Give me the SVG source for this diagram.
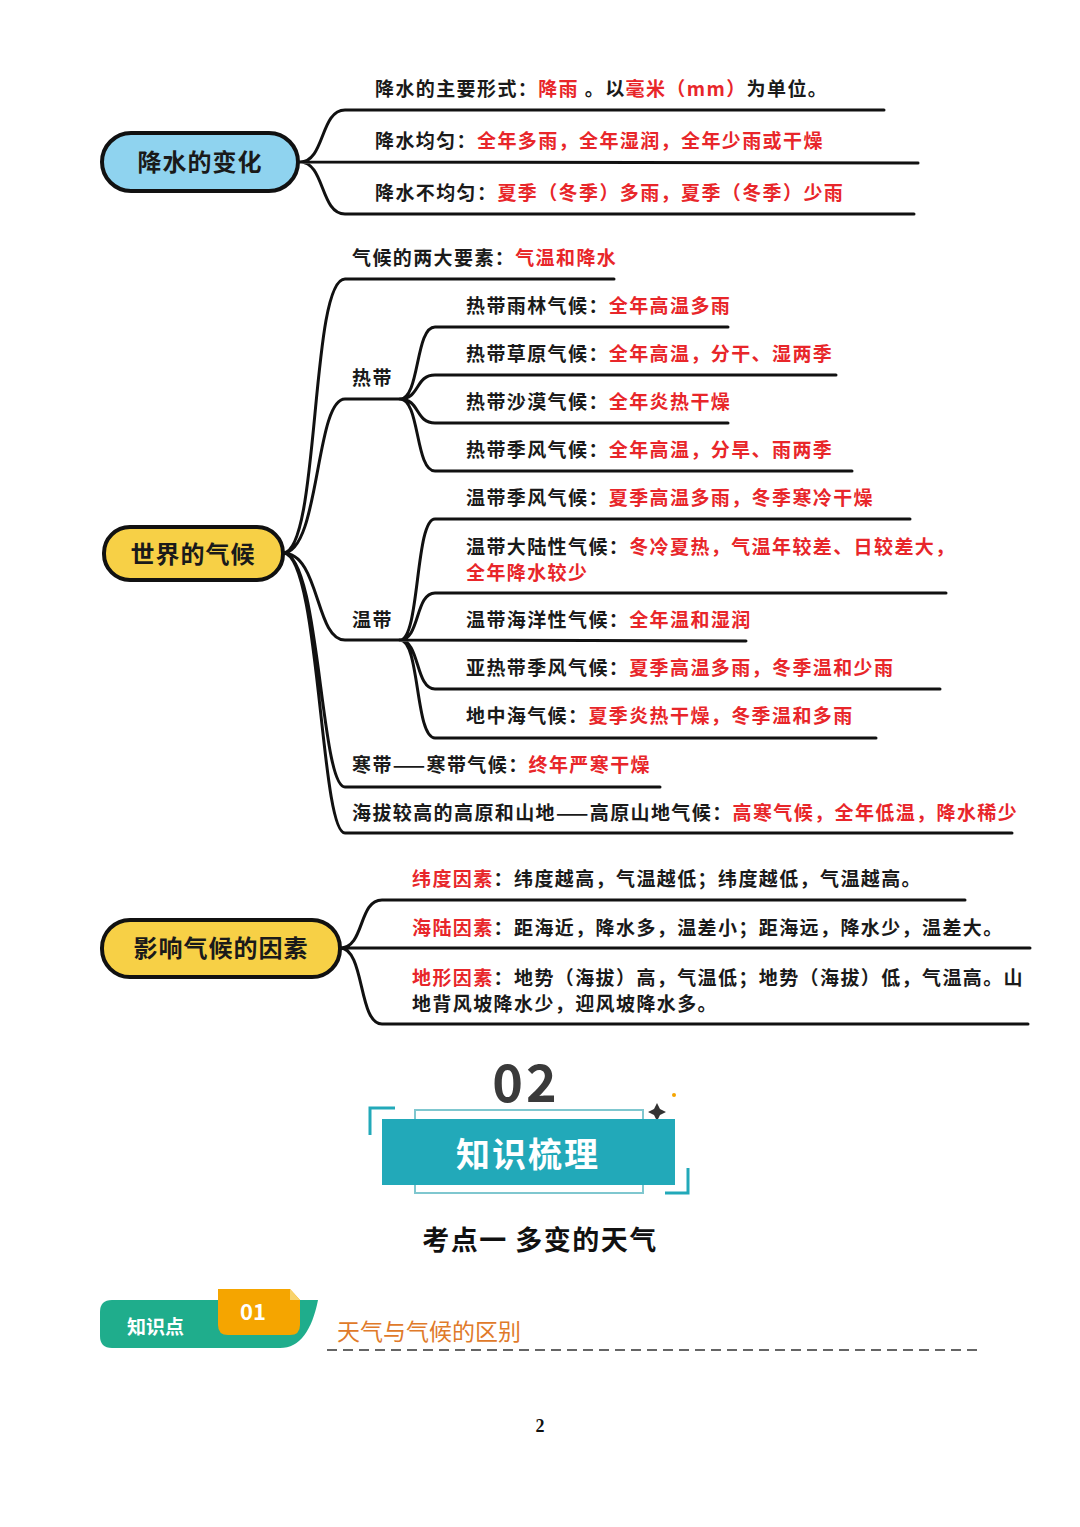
<svg xmlns="http://www.w3.org/2000/svg" width="1080" height="1527" viewBox="0 0 1080 1527">
<style>
text{font-family:"Noto Sans CJK SC","Liberation Sans",sans-serif;font-weight:bold}
.t{font-size:19px;fill:#1a1a1a;letter-spacing:1.4px}
.r{fill:#e8262a}
.ln{stroke:#111;stroke-width:3;fill:none;stroke-linecap:round}
.pill{stroke:#111;stroke-width:4}
.h{font-size:24px;fill:#1a1a1a;letter-spacing:1px}
</style>
<rect width="1080" height="1527" fill="#fff"/>
<g id="connectors">
<path class="ln" d="M300 162 C325 162 320 110 345 110 L884 110 M300 162 L918 163 M300 162 C325 162 320 214 345 214 L914 214"/>
<path class="ln" d="M283 553 C320 553 310 279 345 279 L614 279 M283 553 C320 553 315 399 345 399 L400 399 M283 553 C320 553 315 640 345 640 L400 640 M283 553 C320 553 320 787 345 787 L660 787 M283 553 C320 553 320 833 345 833 L1012 833"/>
<path class="ln" d="M400 399 C420 399 415 327 435 327 L728 327 M400 399 C420 399 415 375 435 375 L836 375 M400 399 C420 399 415 423 435 423 L728 423 M400 399 C420 399 415 471 435 471 L852 471"/>
<path class="ln" d="M400 640 C420 640 415 519 435 519 L910 519 M400 640 C420 640 415 593 435 593 L946 593 M400 640 L746 641 M400 640 C420 640 415 689 435 689 L940 689 M400 640 C420 640 415 738 435 738 L876 738"/>
<path class="ln" d="M340 948 C365 948 358 900 382 900 L965 900 M340 948 L1030 948 M340 948 C365 948 358 1024 382 1024 L1028 1024"/>
</g>
<g id="n1"><rect class="pill" x="102" y="133" width="196" height="58" rx="29" fill="#8fd3ef"/><text class="h" x="200" y="171" text-anchor="middle">降水的变化</text></g>
<g id="n1a"><text class="t" x="375" y="96">降水的主要形式：<tspan class="r">降雨</tspan> 。以<tspan class="r">毫米（mm）</tspan>为单位。</text></g>
<g id="n1b"><text class="t" x="375" y="148">降水均匀：<tspan class="r">全年多雨，全年湿润，全年少雨或干燥</tspan></text></g>
<g id="n1c"><text class="t" x="375" y="200">降水不均匀：<tspan class="r">夏季（冬季）多雨，夏季（冬季）少雨</tspan></text></g>
<g id="n2"><rect class="pill" x="104" y="527" width="179" height="53" rx="26" fill="#f7d046"/><text class="h" x="193" y="563" text-anchor="middle">世界的气候</text></g>
<g id="n2a"><text class="t" x="352" y="265">气候的两大要素：<tspan class="r">气温和降水</tspan></text></g>
<g id="n2b"><text class="t" x="352" y="385">热带</text></g>
<g id="n2c"><text class="t" x="352" y="627">温带</text></g>
<g id="n2d"><text class="t" x="352" y="772">寒带——寒带气候：<tspan class="r">终年严寒干燥</tspan></text></g>
<g id="n2e"><text class="t" x="352" y="820">海拔较高的高原和山地——高原山地气候：<tspan class="r">高寒气候，全年低温，降水稀少</tspan></text></g>
<g id="t1"><text class="t" x="466" y="313">热带雨林气候：<tspan class="r">全年高温多雨</tspan></text></g>
<g id="t2"><text class="t" x="466" y="361">热带草原气候：<tspan class="r">全年高温，分干、湿两季</tspan></text></g>
<g id="t3"><text class="t" x="466" y="409">热带沙漠气候：<tspan class="r">全年炎热干燥</tspan></text></g>
<g id="t4"><text class="t" x="466" y="457">热带季风气候：<tspan class="r">全年高温，分旱、雨两季</tspan></text></g>
<g id="w1"><text class="t" x="466" y="505">温带季风气候：<tspan class="r">夏季高温多雨，冬季寒冷干燥</tspan></text></g>
<g id="w2"><text class="t" x="466" y="554">温带大陆性气候：<tspan class="r">冬冷夏热，气温年较差、日较差大，</tspan></text><text class="t r" x="466" y="580">全年降水较少</text></g>
<g id="w3"><text class="t" x="466" y="627">温带海洋性气候：<tspan class="r">全年温和湿润</tspan></text></g>
<g id="w4"><text class="t" x="466" y="675">亚热带季风气候：<tspan class="r">夏季高温多雨，冬季温和少雨</tspan></text></g>
<g id="w5"><text class="t" x="466" y="723">地中海气候：<tspan class="r">夏季炎热干燥，冬季温和多雨</tspan></text></g>
<g id="n3"><rect class="pill" x="102" y="920" width="238" height="57" rx="28" fill="#f7d046"/><text class="h" x="221" y="957" text-anchor="middle">影响气候的因素</text></g>
<g id="n3a"><text class="t" x="412" y="886"><tspan class="r">纬度因素</tspan>：纬度越高，气温越低；纬度越低，气温越高。</text></g>
<g id="n3b"><text class="t" x="412" y="935"><tspan class="r">海陆因素</tspan>：距海近，降水多，温差小；距海远，降水少，温差大。</text></g>
<g id="n3c"><text class="t" x="412" y="985"><tspan class="r">地形因素</tspan>：地势（海拔）高，气温低；地势（海拔）低，气温高。山</text><text class="t" x="412" y="1011">地背风坡降水少，迎风坡降水多。</text></g>
<g id="header">
<text x="526" y="1102" text-anchor="middle" font-size="52" fill="#3a3a3a" letter-spacing="3">02</text>
<path d="M657 1103 l3 6 6 3 -6 3 -3 6 -3 -6 -6 -3 6 -3z" fill="#333"/>
<circle cx="674" cy="1095" r="2" fill="#f5a500"/>
<rect x="415" y="1110" width="228" height="83" fill="none" stroke="#7fc7cf" stroke-width="2"/>
<rect x="382" y="1119" width="293" height="66" fill="#22a9b9"/>
<path d="M370 1135 V1108 H395 M688 1168 V1193 H665" fill="none" stroke="#22a9b9" stroke-width="3"/>
<text x="528" y="1167" text-anchor="middle" font-size="34" fill="#fff" letter-spacing="2">知识梳理</text>
<text x="540" y="1250" text-anchor="middle" font-size="27" fill="#111" letter-spacing="1.5">考点一  多变的天气</text>
</g>
<g id="badge">
<path d="M112 1300 H318 C312 1330 300 1348 280 1348 H112 Q100 1348 100 1336 V1312 Q100 1300 112 1300Z" fill="#1fad8c"/>
<path d="M218 1289 H290 L300 1300 V1325 Q300 1335 290 1335 H228 Q218 1335 218 1325Z" fill="#f5a500"/>
<path d="M290 1289 L300 1300 H290Z" fill="#f8d36b"/>
<text x="253" y="1320" text-anchor="middle" font-size="22" fill="#fff">01</text>
<text x="127" y="1334" font-size="19" fill="#fff">知识点</text>
<text x="337" y="1340" font-size="23" fill="#e07a2a" style="font-weight:normal">天气与气候的区别</text>
<line x1="327" y1="1350" x2="982" y2="1350" stroke="#333" stroke-width="1.5" stroke-dasharray="10 6"/>
</g>
<text x="540" y="1432" text-anchor="middle" font-size="18" style="font-family:'Liberation Serif',serif" fill="#111">2</text>
</svg>
